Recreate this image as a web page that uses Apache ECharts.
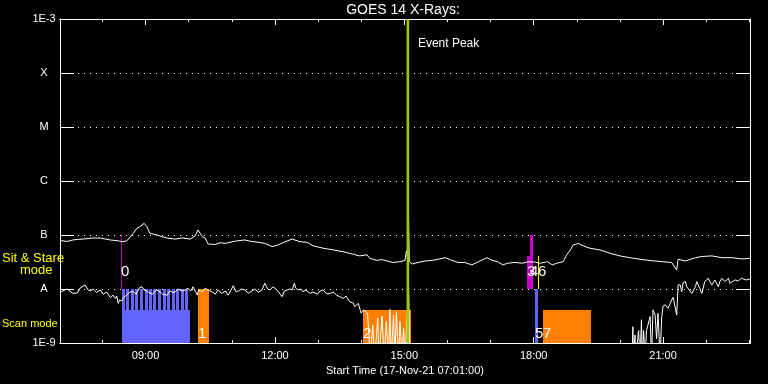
<!DOCTYPE html>
<html><head><meta charset="utf-8">
<script src="https://cdn.jsdelivr.net/npm/echarts@6/dist/echarts.min.js"></script>
<style>html,body{margin:0;padding:0;background:#000}#c{width:768px;height:384px}</style>
</head><body><div id="c"></div>
<script>
// ---------------- data ----------------
const chartTitle = 'GOES 14 X-Rays:';
const axisName = 'Start Time (17-Nov-21 07:01:00)';
const startTime = '07:01', endTime = '23:01';
const yTickLabels = ['1E-9', 'A', 'B', 'C', 'M', 'X', '1E-3']; // decades 1e-9 .. 1e-3
const xTickLabels = ['09:00', '12:00', '15:00', '18:00', '21:00'];
const xHourTicks = ['08:00','09:00','10:00','11:00','12:00','13:00','14:00','15:00','16:00','17:00','18:00','19:00','20:00','21:00','22:00','23:00'];

// long channel (upper curve)
const longTime = ['07:01','07:11','07:19','07:26','07:33','07:40','07:47','07:57','08:04','08:11','08:22','08:27','08:34','08:43','08:48','08:52','08:58','09:02','09:06','09:16','09:23','09:30','09:41','09:51','10:02','10:09','10:13','10:19','10:23','10:27','10:37','10:44','10:51','11:05','11:18','11:25','11:32','11:46','11:56','12:04','12:14','12:24','12:35','12:45','12:53','13:00','13:07','13:21','13:28','13:35','13:49','13:58','14:08','14:12','14:22','14:29','14:36','14:44','14:54','15:01','15:03','15:05','15:06','15:07','15:11','15:19','15:29','15:39','15:47','15:57','16:06','16:15','16:24','16:34','16:43','16:55','17:02','17:10','17:17','17:24','17:34','17:44','17:52','18:02','18:09','18:19','18:26','18:32','18:41','18:46','18:51','18:55','19:02','19:09','19:18','19:32','19:46','20:00','20:14','20:25','20:39','20:59','21:12','21:19','21:21','21:31','21:45','21:54','22:08','22:22','22:36','22:50','23:01'];
const longFlux = [7.9e-8,7.6e-8,8.1e-8,8.3e-8,8.4e-8,8.6e-8,8.8e-8,8.8e-8,8.4e-8,8.1e-8,7.8e-8,7.5e-8,7.8e-8,1.08e-7,1.33e-7,1.42e-7,1.65e-7,1.42e-7,1.08e-7,1.0e-7,9.3e-8,8.8e-8,8.4e-8,8.8e-8,8.4e-8,9.6e-8,1.24e-7,9.3e-8,8.8e-8,6.8e-8,6.7e-8,7.2e-8,7.0e-8,7.7e-8,8.1e-8,7.7e-8,7.5e-8,7.0e-8,6.1e-8,6.5e-8,7.5e-8,8.4e-8,7.5e-8,7.3e-8,6.3e-8,6.0e-8,5.7e-8,5.3e-8,5.1e-8,4.9e-8,4.4e-8,4.1e-8,4.3e-8,3.7e-8,3.4e-8,3.5e-8,3.3e-8,3.1e-8,3.2e-8,3.4e-8,5.1e-8,3.3e-8,1.74e-7,3.2e-8,2.9e-8,3.1e-8,3.3e-8,3.4e-8,3.55e-8,3.8e-8,3.4e-8,3.1e-8,3.1e-8,2.8e-8,3.2e-8,3.8e-8,3.4e-8,3.2e-8,2.8e-8,3.0e-8,3.1e-8,3.0e-8,3.2e-8,3.15e-8,3.0e-8,3.2e-8,2.8e-8,3.0e-8,3.2e-8,4.3e-8,5.3e-8,6.5e-8,7.0e-8,6.3e-8,5.7e-8,5.3e-8,4.6e-8,4.1e-8,3.8e-8,3.6e-8,3.4e-8,3.2e-8,3.1e-8,2.25e-8,3.55e-8,3.3e-8,3.8e-8,4.0e-8,4.1e-8,3.8e-8,3.8e-8,3.6e-8,3.7e-8];

// short channel (lower curve); values below 1E-9 fall off the plot
const shortTime = ['07:01','07:05','07:11','07:19','07:25','07:29','07:36','07:40','07:43','07:47','07:52','07:57','08:01','08:06','08:11','08:15','08:18','08:20','08:22','08:24','08:27','08:30','08:34','08:38','08:43','08:47','08:51','08:55','08:58','09:02','09:06','09:10','09:15','09:20','09:24','09:30','09:34','09:38','09:41','09:45','09:51','09:55','09:59','10:03','10:06','10:12','10:14','10:19','10:23','10:27','10:33','10:37','10:41','10:46','10:51','10:55','10:59','11:02','11:06','11:09','11:14','11:18','11:23','11:28','11:32','11:37','11:42','11:46','11:50','11:53','11:57','12:00','12:04','12:10','12:13','12:17','12:21','12:24','12:27','12:29','12:32','12:36','12:39','12:43','12:49','12:53','12:59','13:03','13:07','13:12','13:17','13:21','13:26','13:31','13:35','13:39','13:44','13:49','13:51','13:56','14:00','14:03','14:07','14:09','14:13','14:16','14:19','14:23','14:25','14:29','14:32','14:35','14:38','14:40','14:42','14:45','14:47','14:49','14:52','14:54','14:57','14:59','15:01','15:06','15:08','20:17','20:18','20:19','20:21','20:22','20:26','20:28','20:30','20:31','20:33','20:35','20:37','20:39','20:42','20:44','20:46','20:49','20:51','20:53','20:56','20:58','21:00','21:03','21:05','21:07','21:10','21:12','21:14','21:16','21:19','21:21','21:24','21:26','21:28','21:31','21:33','21:35','21:40','21:45','21:47','21:49','21:51','21:54','21:58','22:03','22:05','22:08','22:12','22:17','22:19','22:22','22:26','22:31','22:33','22:35','22:40','22:45','22:47','22:49','22:56','23:01'];
const shortFlux = [8.7e-9,9.2e-9,1.0e-8,8.3e-9,8.4e-9,1.04e-8,1.19e-8,9.6e-9,9.2e-9,1.0e-8,8.7e-9,9.6e-9,8.0e-9,8.8e-9,6.9e-9,7.7e-9,6.7e-9,7.4e-9,5.4e-9,6.3e-9,6.0e-9,7.1e-9,7.7e-9,8.8e-9,8.9e-9,8.0e-9,1.04e-8,1.1e-8,9.6e-9,9.2e-9,8.4e-9,8.0e-9,9.6e-9,8.9e-9,8.0e-9,7.7e-9,9.2e-9,8.7e-9,8.7e-9,1.0e-8,9.2e-9,9.6e-9,1.03e-8,9.2e-9,1.1e-8,7.7e-9,9.6e-9,8.9e-9,1.04e-8,9.6e-9,8.8e-9,8.0e-9,9.6e-9,8.3e-9,9.2e-9,7.7e-9,9.6e-9,1.15e-8,8.8e-9,9.2e-9,1.0e-8,9.6e-9,8.4e-9,9.2e-9,1.0e-8,8.7e-9,9.6e-9,1.28e-8,1.0e-8,9.6e-9,1.09e-8,1.03e-8,9.2e-9,7.2e-9,9.2e-9,9.6e-9,1.0e-8,9.6e-9,1.28e-8,1.04e-8,9.6e-9,1.0e-8,8.9e-9,9.6e-9,8.3e-9,8.8e-9,8.0e-9,9.2e-9,9.6e-9,8.1e-9,8.3e-9,8.8e-9,7.7e-9,7.1e-9,6.7e-9,7.4e-9,5.8e-9,5.5e-9,4.7e-9,5.4e-9,3.55e-9,4.1e-9,3.8e-9,3.3e-9,5e-10,2.15e-9,5e-10,2.9e-9,5e-10,3.16e-9,5e-10,2.5e-9,5e-10,4.2e-9,5e-10,3.3e-9,5e-10,3.8e-9,5e-10,2.5e-9,5e-10,1.9e-9,5e-10,1.09e-8,5e-10,5e-10,2.0e-9,5e-10,1.4e-9,5e-10,1.7e-9,5e-10,2.7e-9,5e-10,1.7e-9,5e-10,1.7e-9,2.15e-9,3.1e-9,5e-10,4.1e-9,3.3e-9,1.2e-9,3.55e-9,5e-10,2.9e-9,4.8e-9,5.1e-9,5.4e-9,4.4e-9,5.4e-9,6.3e-9,7.0e-9,7.2e-9,3.3e-9,1.19e-8,1.19e-8,8.9e-9,1.31e-8,1.37e-8,1.1e-8,1.1e-8,8.3e-9,1.1e-8,1.37e-8,1.28e-8,1.03e-8,8.3e-9,1.37e-8,1.58e-8,1.37e-8,1.19e-8,1.47e-8,1.1e-8,1.37e-8,1.58e-8,1.37e-8,1.58e-8,1.28e-8,1.28e-8,1.47e-8,1.41e-8,1.37e-8,1.58e-8,1.47e-8,1.53e-8];

// observation events
const eventIds   = ['0','1','2','3','4','5','6','7'];
const eventMode  = ['sit','scan','scan','sit','sit','scan','sit','scan'];
const eventStart = ['08:26','10:13','14:03','17:51','17:55','18:02','18:06','18:13'];
const eventEnd   = ['08:26','10:28','15:09','17:59','17:59','18:06','18:06','19:20'];
const eventLow   = [1e-8, 1e-9, 1e-9, 1e-8, 1e-8, 1e-9, 1e-8, 1e-9];
const eventHigh  = [1e-7, 1e-8, 4.1e-9, 4.1e-8, 1e-7, 1e-8, 4.1e-8, 4.1e-9];

// scan block with comb of short observations
const scanBlock = ['08:27', '10:02', 1e-9, 4.1e-9];
const combStart = ['08:27','08:33','08:40','08:46','08:52','08:59','09:05','09:11','09:18','09:24','09:30','09:37','09:43','09:49','09:55'];
const combMinutes = 4;
const combLow = 4.1e-9, combHigh = 1e-8;

const peakTime = '15:05';
const peakLabel = 'Event Peak';

// ---------------- styles ----------------
const FONT = 'Liberation Sans';
const eventColor = ['#b800b8','#ff8000','#ff8000','#c800c8','#c800c8','#6464ff','#ffff00','#ff8000'];
const blockColor = '#6464ff';
const peakColor = '#99cc00';
const modeLabelFlux = { sit: 2.1e-8, scan: 1.5e-9 };

const toMin = s => { const [h, m] = s.split(':').map(Number); return h * 60 + m; };
const fmt = v => { const h = Math.floor(v / 60), m = Math.round(v % 60); return String(h).padStart(2,'0') + ':' + String(m).padStart(2,'0'); };
const xMin = toMin(startTime), xMax = toMin(endTime);

function rectOf(api, t0, t1, lo, hi, minW) {
  const a = api.coord([t0, hi]), b = api.coord([t1, lo]);
  let x = Math.round(a[0]), x2 = Math.round(b[0]);
  if (x2 - x < minW) x2 = x + minW;
  const y = Math.round(a[1]), y2 = Math.round(b[1]);
  return { x: x, y: y, width: x2 - x, height: y2 - y };
}

const chart = echarts.init(document.getElementById('c'), null, { renderer: 'canvas' });

const xBase = { type: 'value', min: xMin, max: xMax, splitLine: { show: false },
  axisLine: { show: true, lineStyle: { color: '#fff', width: 1 } } };
const xAxes = [
  Object.assign({}, xBase, { position: 'bottom',
    name: axisName, nameLocation: 'middle', nameGap: 18,
    nameTextStyle: { color: '#fff', fontFamily: FONT, fontSize: 11 },
    axisTick: { show: true, inside: true, length: 6, customValues: xTickLabels.map(toMin), lineStyle: { color: '#fff' } },
    axisLabel: { show: true, color: '#fff', fontFamily: FONT, fontSize: 11, margin: 7, customValues: xTickLabels.map(toMin), formatter: v => fmt(v) } }),
  Object.assign({}, xBase, { position: 'bottom',
    axisTick: { show: true, inside: true, length: 3, customValues: xHourTicks.map(toMin), lineStyle: { color: '#fff' } },
    axisLabel: { show: false } }),
  Object.assign({}, xBase, { position: 'top',
    axisTick: { show: true, inside: true, length: 6, customValues: xTickLabels.map(toMin), lineStyle: { color: '#fff' } },
    axisLabel: { show: false } }),
  Object.assign({}, xBase, { position: 'top',
    axisTick: { show: true, inside: true, length: 3, customValues: xHourTicks.map(toMin), lineStyle: { color: '#fff' } },
    axisLabel: { show: false } })
];

const yBase = { type: 'log', logBase: 10, min: 1e-9, max: 1e-3, splitNumber: 6,
  axisLine: { show: true, lineStyle: { color: '#fff', width: 1 } },
  axisTick: { show: true, inside: true, length: 14, lineStyle: { color: '#fff' } } };
const yAxes = [
  Object.assign({}, yBase, { position: 'left',
    axisLabel: { show: true, color: '#fff', fontFamily: FONT, fontSize: 11, align: 'center', margin: 16,
      formatter: v => yTickLabels[Math.round(Math.log10(v)) + 9] || '' },
    splitLine: { show: true, showMinLine: false, showMaxLine: false, lineStyle: { color: '#fff', width: 1, type: [1, 5] } } }),
  Object.assign({}, yBase, { position: 'right', axisLabel: { show: false }, splitLine: { show: false } })
];

const eventData = eventIds.map((id, i) => [toMin(eventStart[i]), toMin(eventEnd[i]), eventLow[i], eventHigh[i], i]);
const combData = combStart.map(t => [toMin(t), toMin(t) + combMinutes, combLow, combHigh]);
combData.unshift([toMin(scanBlock[0]), toMin(scanBlock[1]), scanBlock[2], scanBlock[3]]);
const labelData = eventIds.map((id, i) => [toMin(eventStart[i]), modeLabelFlux[eventMode[i]], i]);

const option = {
  backgroundColor: '#000',
  animation: false,
  title: { text: chartTitle, left: 403, top: 3, textAlign: 'center', padding: 0,
    textStyle: { color: '#fff', fontFamily: FONT, fontSize: 14, fontWeight: 'normal' } },
  grid: { left: 60, right: 18, top: 19, bottom: 41, containLabel: false },
  xAxis: xAxes,
  yAxis: yAxes,
  graphic: [
    { type: 'text', left: 2, top: 252, style: { text: 'Sit & Stare', fill: '#ffff00', font: '13px "' + FONT + '"' } },
    { type: 'text', left: 20, top: 264, style: { text: 'mode', fill: '#ffff00', font: '13px "' + FONT + '"' } },
    { type: 'text', left: 2, top: 318, style: { text: 'Scan mode', fill: '#ffff00', font: '11px "' + FONT + '"' } }
  ],
  series: [
    { type: 'custom', name: 'scanBlock', xAxisIndex: 0, yAxisIndex: 0, z: 2,
      encode: { x: [0, 1], y: [2, 3] }, data: combData,
      renderItem: (p, api) => ({ type: 'rect', shape: rectOf(api, api.value(0), api.value(1), api.value(2), api.value(3), 1), style: { fill: blockColor } }) },
    { type: 'custom', name: 'events', xAxisIndex: 0, yAxisIndex: 0, z: 2,
      encode: { x: [0, 1], y: [2, 3] }, data: eventData,
      renderItem: (p, api) => ({ type: 'rect', shape: rectOf(api, api.value(0), api.value(1), api.value(2), api.value(3), 1), style: { fill: eventColor[api.value(4)] } }) },
    { type: 'line', name: 'long', xAxisIndex: 0, yAxisIndex: 0, z: 3, showSymbol: false, symbol: 'none', clip: true,
      lineStyle: { color: '#fff', width: 1 }, data: longTime.map((t, i) => [toMin(t), longFlux[i]]) },
    { type: 'line', name: 'short', xAxisIndex: 0, yAxisIndex: 0, z: 3, showSymbol: false, symbol: 'none', clip: true,
      lineStyle: { color: '#fff', width: 1 }, data: shortTime.map((t, i) => [toMin(t), shortFlux[i]]) },
    { type: 'custom', name: 'peak', xAxisIndex: 0, yAxisIndex: 0, z: 4,
      encode: { x: 0, y: [1, 2] }, data: [[toMin(peakTime), 1e-9, 1e-3]],
      renderItem: (p, api) => {
        const a = api.coord([api.value(0), api.value(2)]), b = api.coord([api.value(0), api.value(1)]);
        return { type: 'group', children: [
          { type: 'rect', shape: { x: a[0] - 1.3, y: a[1], width: 2.6, height: b[1] - a[1] }, style: { fill: peakColor } },
          { type: 'text', x: a[0] + 10, y: a[1] + 25, style: { text: peakLabel, fill: '#fff', font: '12px "' + FONT + '"', align: 'left', verticalAlign: 'middle' } }
        ] };
      } },
    { type: 'custom', name: 'labels', xAxisIndex: 0, yAxisIndex: 0, z: 5,
      encode: { x: 0, y: 1 }, data: labelData,
      renderItem: (p, api) => {
        const c = api.coord([api.value(0), api.value(1)]);
        return { type: 'text', x: Math.round(c[0]), y: c[1], style: { text: eventIds[api.value(2)], fill: '#fff', font: '15px "' + FONT + '"', align: 'left', verticalAlign: 'middle' } };
      } }
  ]
};
chart.setOption(option);
</script>
</body></html>
